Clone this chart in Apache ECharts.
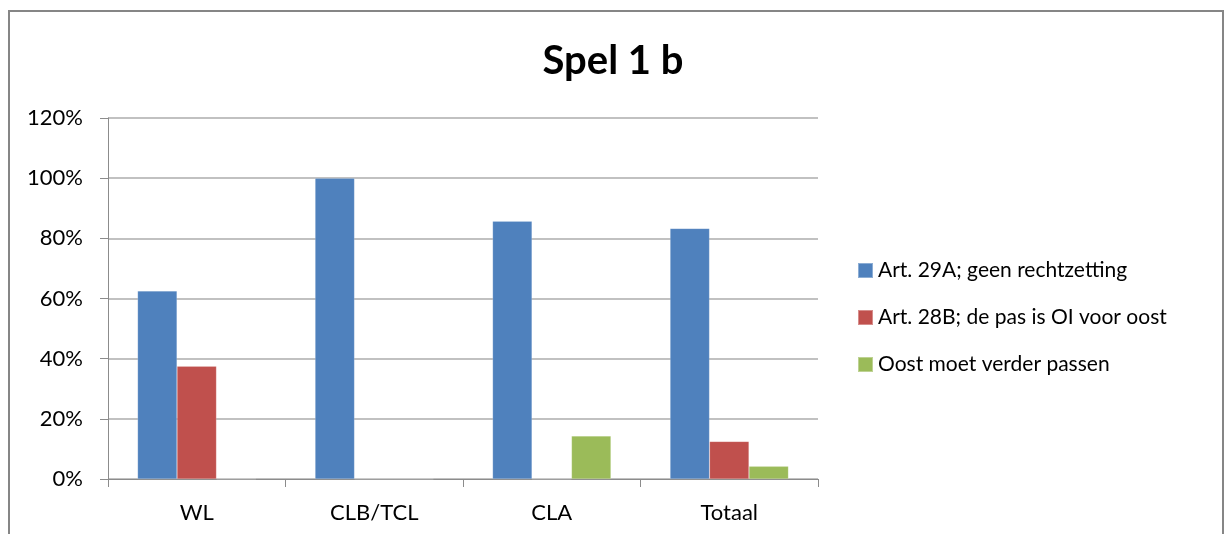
<!DOCTYPE html>
<html>
<head>
<meta charset="utf-8">
<script src="https://cdn.jsdelivr.net/npm/echarts@6/dist/echarts.min.js"></script>
<style>
html,body{margin:0;padding:0;background:#fff;}
#c{width:1226px;height:534px;}
</style>
</head>
<body>
<div id="c"></div>
<script>
var title = 'Spel 1 b';
var categories = ['WL', 'CLB/TCL', 'CLA', 'Totaal'];
var seriesNames = ['Art. 29A; geen rechtzetting', 'Art. 28B; de pas is OI voor oost', 'Oost moet verder passen'];
var art29A = [62.5, 100, 85.7, 83.3];
var art28B = [37.5, 0, 0, 12.5];
var oost = [0, 0, 14.3, 4.2];
var colors = ['#4F81BD', '#C0504D', '#9BBB59'];

var font = 'Lato, "Open Sans", sans-serif';
var chart = echarts.init(document.getElementById('c'), null, {renderer: 'canvas'});
function mk(name, data, color) {
  return {
    name: name, type: 'bar', data: data,
    barGap: '0%', barCategoryGap: '33.3%',
    itemStyle: {color: color, borderColor: 'rgba(255,255,255,0.35)', borderWidth: 0.5},
    emphasis: {disabled: true}
  };
}
chart.setOption({
  animation: false,
  title: {
    text: title, left: 'center', top: 36,
    textStyle: {fontFamily: font, fontSize: 40, fontWeight: 'bold', color: '#000'}
  },
  legend: {
    orient: 'vertical', left: 852, top: 255,
    itemWidth: 15, itemHeight: 15, itemGap: 26,
    icon: 'rect',
    textStyle: {fontFamily: font, fontSize: 21, color: '#000'},
    data: seriesNames
  },
  grid: {left: 108, right: 408, top: 118, bottom: 55, containLabel: false},
  xAxis: {
    type: 'category', data: categories,
    axisLine: {lineStyle: {color: '#8c8c8c', width: 1}},
    axisTick: {show: true, length: 8, lineStyle: {color: '#8c8c8c'}},
    axisLabel: {fontFamily: font, fontSize: 22, color: '#000', margin: 23}
  },
  yAxis: {
    type: 'value', min: 0, max: 120, interval: 20,
    axisLine: {show: true, lineStyle: {color: '#8c8c8c'}},
    axisTick: {show: true, length: 8, lineStyle: {color: '#8c8c8c'}},
    splitLine: {lineStyle: {color: '#adadad', width: 1.5}},
    axisLabel: {fontFamily: font, fontSize: 22, color: '#000', margin: 25, formatter: '{value}%'}
  },
  graphic: [{
    type: 'rect', shape: {x: 9, y: 11, width: 1214, height: 540},
    style: {fill: 'none', stroke: '#868686', lineWidth: 2}, silent: true
  }],
  series: [mk(seriesNames[0], art29A, colors[0]), mk(seriesNames[1], art28B, colors[1]), mk(seriesNames[2], oost, colors[2])]
});
</script>
</body>
</html>
